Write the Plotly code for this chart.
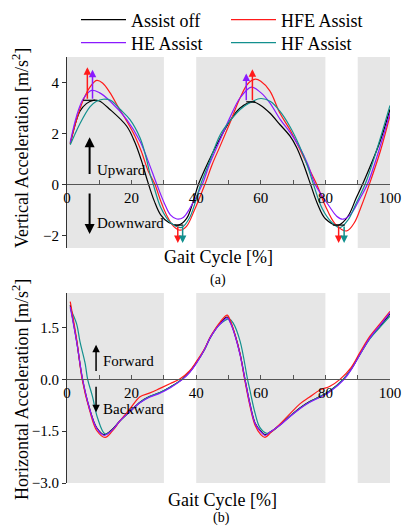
import plotly.graph_objects as go

# ---------------- data ----------------
series_names = ["Assist off", "HFE Assist", "HE Assist", "HF Assist"]
series_colors = ["#000000", "#ff1a1a", "#8a1aff", "#12908e"]

# Vertical acceleration (top)
v_off_x = [1, 4, 6, 8.1, 10, 13.3, 18.5, 21, 23, 25, 27, 29, 31.5, 34.5, 37, 39, 40.7, 44, 47.4, 50.4, 53.6, 57.4, 60, 62.8, 65.9, 69, 71.1, 73.2, 75.4, 77.5, 80, 84, 87, 89.5, 91.5, 96.9, 100]
v_off_y = [1.6, 2.87, 3.17, 3.3, 3.27, 2.94, 2.28, 1.65, 0.95, 0.1, -0.65, -1.2, -1.5, -1.6, -1.35, -0.7, 0.0, 0.95, 1.81, 2.48, 3.0, 3.24, 3.1, 2.8, 2.35, 1.9, 1.45, 0.8, 0.0, -0.75, -1.35, -1.6, -1.25, -0.55, 0.0, 1.68, 2.95]

v_hfe_x = [1, 3, 5, 7, 9.2, 11, 13.3, 16, 18.5, 21, 23, 25.2, 27.2, 29, 31, 33, 35, 37, 39.5, 42.7, 45, 47.4, 50.4, 53.6, 56, 58.3, 60, 62.8, 65.9, 69, 72, 75, 77.3, 80, 83, 86.6, 89, 91, 93.6, 97, 100]
v_hfe_y = [1.6, 2.55, 3.3, 3.8, 4.08, 3.98, 3.6, 3.0, 2.48, 1.9, 1.3, 0.5, 0.0, -0.65, -1.25, -1.65, -1.8, -1.65, -1.0, 0.0, 0.8, 1.5, 2.4, 3.4, 3.95, 4.13, 4.05, 3.67, 2.8, 2.15, 1.4, 0.6, 0.0, -0.85, -1.55, -1.83, -1.5, -0.9, 0.0, 1.3, 2.7]

v_he_x = [1, 3, 5, 7.6, 10, 13.3, 18.5, 22.6, 25, 27.8, 30, 32, 34, 36, 38, 41.9, 44, 47.4, 50.4, 53.6, 57.1, 60, 62.8, 66, 69, 72, 74.5, 76.8, 79, 81.4, 83.5, 85.5, 88, 90.5, 93, 96, 100]
v_he_y = [1.65, 2.7, 3.35, 3.69, 3.6, 3.27, 2.54, 1.69, 0.95, 0.0, -0.7, -1.2, -1.36, -1.3, -0.95, 0.0, 0.75, 1.75, 2.61, 3.4, 3.82, 3.6, 3.2, 2.55, 2.05, 1.45, 0.8, 0.0, -0.45, -0.9, -1.25, -1.37, -1.15, -0.6, 0.0, 1.1, 2.8]

v_hf_x = [1, 4, 7.1, 9, 11.2, 13.5, 16.4, 19.5, 22.6, 24.2, 25.7, 26.7, 29, 32, 35.5, 38, 41.4, 44, 47.4, 50.4, 53.6, 56.6, 60, 63, 65.9, 69, 72, 74.5, 76.3, 79, 82, 84.5, 87, 89.5, 92.3, 96, 100]
v_hf_y = [1.55, 2.38, 3.04, 3.25, 3.34, 3.3, 2.95, 2.54, 1.83, 1.2, 0.4, 0.0, -0.9, -1.5, -1.69, -1.3, 0.0, 0.85, 1.94, 2.48, 2.94, 3.2, 3.37, 3.25, 2.87, 2.27, 1.5, 0.7, 0.0, -0.95, -1.5, -1.7, -1.4, -0.75, 0.0, 1.4, 3.1]

# Horizontal acceleration (bottom)
h_off_x = [1, 3, 4.8, 7, 9.2, 11.5, 14, 16.4, 19.5, 22.6, 25.5, 28.8, 32, 35.6, 38, 40.1, 42.5, 44.3, 46, 47.4, 49.6, 50.6, 52, 53.6, 55.1, 56.6, 58.2, 60, 61.3, 63, 65.9, 69, 72.1, 75, 78.3, 81.4, 85.5, 88, 90.7, 93.8, 97, 100]
h_off_y = [2.15, 1.1, 0.0, -0.85, -1.4, -1.6, -1.45, -1.2, -0.93, -0.66, -0.5, -0.38, -0.22, 0.0, 0.22, 0.49, 0.85, 1.2, 1.45, 1.62, 1.8, 1.65, 1.29, 0.73, 0.0, -0.69, -1.26, -1.5, -1.6, -1.52, -1.32, -1.07, -0.83, -0.65, -0.5, -0.33, 0.0, 0.3, 0.73, 1.2, 1.55, 1.9]

h_hfe_x = [1, 3, 4.7, 7, 9.2, 11.8, 14, 16.4, 19.5, 22.6, 25.5, 28.8, 32, 34.8, 38, 40.1, 42.5, 44.3, 46, 47.4, 49.6, 50.6, 52, 53.6, 55, 56.6, 58.2, 60, 61.3, 63, 65.9, 69, 72.1, 75, 78.3, 81.4, 84.5, 88, 90.7, 93.8, 97, 100]
h_hfe_y = [2.25, 1.15, 0.0, -0.9, -1.48, -1.68, -1.5, -1.2, -0.85, -0.5, -0.4, -0.26, -0.12, 0.0, 0.25, 0.52, 0.87, 1.22, 1.48, 1.66, 1.86, 1.7, 1.3, 0.72, 0.0, -0.75, -1.32, -1.6, -1.68, -1.55, -1.3, -1.0, -0.71, -0.52, -0.31, -0.2, 0.0, 0.35, 0.78, 1.25, 1.62, 1.97]

h_he_x = [1, 3, 4.85, 7, 9.2, 11.5, 14, 16.4, 19.5, 22.6, 25.5, 28.8, 32, 35.8, 38, 40.1, 42.5, 44.3, 46, 47.4, 49.6, 50.6, 52, 53.6, 55.1, 56.6, 58.2, 60, 61.3, 63, 65.9, 69, 72.1, 75, 78.3, 81.4, 85.8, 88, 90.7, 93.8, 97, 100]
h_he_y = [2.1, 1.08, 0.0, -0.85, -1.42, -1.62, -1.47, -1.2, -0.93, -0.68, -0.52, -0.4, -0.24, 0.0, 0.2, 0.47, 0.85, 1.2, 1.45, 1.6, 1.78, 1.63, 1.27, 0.7, 0.0, -0.7, -1.27, -1.52, -1.62, -1.52, -1.33, -1.08, -0.85, -0.67, -0.52, -0.36, 0.0, 0.28, 0.72, 1.2, 1.58, 1.93]

h_hf_x = [1, 3, 4, 5.6, 6.4, 7.9, 9.4, 11.8, 14, 16.4, 19.5, 22.6, 25.5, 28.8, 32, 35.5, 38, 40.1, 42.5, 44.3, 46, 47.4, 50.2, 51.5, 53.6, 55.9, 56.6, 58.2, 59.7, 61.8, 63.5, 65.9, 69, 72.1, 75, 78.3, 81.4, 85.5, 88, 90.7, 93.8, 97, 100]
h_hf_y = [2.05, 1.6, 1.1, 0.47, 0.0, -0.5, -1.1, -1.58, -1.47, -1.2, -0.93, -0.67, -0.5, -0.38, -0.22, 0.0, 0.22, 0.49, 0.85, 1.2, 1.45, 1.6, 1.75, 1.62, 1.1, 0.0, -0.3, -0.97, -1.39, -1.56, -1.5, -1.32, -1.07, -0.84, -0.66, -0.5, -0.34, 0.0, 0.3, 0.72, 1.18, 1.52, 1.83]

# shaded gait phases (x ranges)
shade_ranges = [(0, 30), (40, 80), (90, 100)]

# peak/valley markers on the vertical plot: (x, base, tip, color index)
change_arrows = [(6.3, 3.3, 4.6, 1), (7.9, 3.3, 4.5, 2), (55.5, 3.24, 4.35, 2), (57.4, 3.24, 4.52, 1),
                 (34.3, -1.6, -2.3, 1), (35.8, -1.6, -2.3, 3), (84.1, -1.6, -2.3, 1), (85.8, -1.6, -2.3, 3)]
base_segments = [(5.0, 8.7, 3.3), (55.5, 58.3, 3.24), (33.4, 36.0, -1.6), (82.3, 86.0, -1.6)]

x_ticks = [0, 20, 40, 60, 80, 100]
v_ticks = [-2, 0, 2, 4]
h_ticks = [-3.0, -1.5, 0.0, 1.5]
v_range = [-2.5, 5]
h_range = [-3, 2.5]

# ---------------- layout helpers ----------------
W, H = 403, 527
ML, MR, MT, MB = 67, 13, 57, 44
PW, PH = W - ML - MR, H - MT - MB
def paper_x(px):
    return (px - ML) / PW
def paper_y(py):
    return (H - MB - py) / PH

top_dom = [paper_y(248), 1.0]
bot_dom = [0.0, paper_y(293)]
top_zero = top_dom[0] + (0 - v_range[0]) / (v_range[1] - v_range[0]) * (top_dom[1] - top_dom[0])
bot_zero = bot_dom[0] + (0 - h_range[0]) / (h_range[1] - h_range[0]) * (bot_dom[1] - bot_dom[0])

FONT = "Liberation Serif"
fig = go.Figure()

top_sets = [(v_off_x, v_off_y), (v_hfe_x, v_hfe_y), (v_he_x, v_he_y), (v_hf_x, v_hf_y)]
bot_sets = [(h_off_x, h_off_y), (h_hfe_x, h_hfe_y), (h_he_x, h_he_y), (h_hf_x, h_hf_y)]
legend_ids = ["legend", "legend2", "legend3", "legend4"]
# legend slots (px of entry start, row centre px)
legend_slots = [(76, 20), (226, 20), (76, 43), (226, 43)]

for i in range(4):
    xs, ys = top_sets[i]
    fig.add_trace(go.Scatter(x=xs, y=ys, mode="lines", name=series_names[i],
                             line=dict(color=series_colors[i], width=1.2, shape="spline", smoothing=1.0),
                             xaxis="x", yaxis="y", showlegend=True, legend=legend_ids[i]))
for i in [0, 3, 1, 2]:
    xs, ys = bot_sets[i]
    fig.add_trace(go.Scatter(x=xs, y=ys, mode="lines", name=series_names[i],
                             line=dict(color=series_colors[i], width=1.2, shape="spline", smoothing=1.0),
                             xaxis="x2", yaxis="y2", showlegend=False))

shapes = []
for (a, b) in shade_ranges:
    for xr, yr in [("x", "y domain"), ("x2", "y2 domain")]:
        shapes.append(dict(type="rect", xref=xr, yref=yr, x0=a, x1=b, y0=0, y1=1,
                           fillcolor="#e6e6e6", line=dict(width=0), layer="below"))
for (a, b, yv) in base_segments:
    shapes.append(dict(type="line", xref="x", yref="y", x0=a, x1=b, y0=yv, y1=yv,
                       line=dict(color="#000000", width=1.2)))

ann = []
for (xv, base, tip, ci) in change_arrows:
    ann.append(dict(x=xv, y=tip, ax=xv, ay=base, xref="x", yref="y", axref="x", ayref="y",
                    text="", showarrow=True, arrowhead=2, arrowsize=1.0, arrowwidth=1.5,
                    arrowcolor=series_colors[ci]))
# direction arrows + labels
ann += [
    dict(x=7.0, y=1.85, ax=7.0, ay=0.35, xref="x", yref="y", axref="x", ayref="y", text="",
         showarrow=True, arrowhead=2, arrowsize=1.0, arrowwidth=2, arrowcolor="#000"),
    dict(x=7.0, y=-1.95, ax=7.0, ay=-0.3, xref="x", yref="y", axref="x", ayref="y", text="",
         showarrow=True, arrowhead=2, arrowsize=1.0, arrowwidth=2, arrowcolor="#000"),
    dict(x=8.6, y=0.56, xref="x", yref="y", text="Upward", showarrow=False, xanchor="left",
         font=dict(family=FONT, size=15, color="#000")),
    dict(x=8.6, y=-1.5, xref="x", yref="y", text="Downward", showarrow=False, xanchor="left",
         font=dict(family=FONT, size=15, color="#000")),
    dict(x=9.0, y=1.0, ax=9.0, ay=0.2, xref="x2", yref="y2", axref="x2", ayref="y2", text="",
         showarrow=True, arrowhead=2, arrowsize=1.0, arrowwidth=1.5, arrowcolor="#000"),
    dict(x=9.0, y=-0.95, ax=9.0, ay=-0.17, xref="x2", yref="y2", axref="x2", ayref="y2", text="",
         showarrow=True, arrowhead=2, arrowsize=1.0, arrowwidth=1.5, arrowcolor="#000"),
    dict(x=10.6, y=0.54, xref="x2", yref="y2", text="Forward", showarrow=False, xanchor="left",
         font=dict(family=FONT, size=15, color="#000")),
    dict(x=10.6, y=-0.86, xref="x2", yref="y2", text="Backward", showarrow=False, xanchor="left",
         font=dict(family=FONT, size=15, color="#000")),
]
# titles
ann += [
    dict(x=paper_x(218), y=paper_y(257), xref="paper", yref="paper", text="Gait Cycle [%]",
         xanchor="center", yanchor="middle",
         showarrow=False, font=dict(family=FONT, size=18, color="#000")),
    dict(x=paper_x(218), y=paper_y(280), xref="paper", yref="paper", text="(a)",
         xanchor="center", yanchor="middle",
         showarrow=False, font=dict(family=FONT, size=14, color="#000")),
    dict(x=paper_x(222), y=paper_y(500), xref="paper", yref="paper", text="Gait Cycle [%]",
         xanchor="center", yanchor="middle",
         showarrow=False, font=dict(family=FONT, size=18, color="#000")),
    dict(x=paper_x(221), y=paper_y(518), xref="paper", yref="paper", text="(b)",
         xanchor="center", yanchor="middle",
         showarrow=False, font=dict(family=FONT, size=14, color="#000")),
    dict(x=paper_x(20), y=paper_y(148), xref="paper", yref="paper", textangle=-90,
         xanchor="center", yanchor="middle",
         text="Vertical Acceleration [m/s<sup>2</sup>]", showarrow=False,
         font=dict(family=FONT, size=18, color="#000")),
    dict(x=paper_x(20), y=paper_y(390), xref="paper", yref="paper", textangle=-90,
         xanchor="center", yanchor="middle",
         text="Horizontal Acceleration [m/s<sup>2</sup>]", showarrow=False,
         font=dict(family=FONT, size=18, color="#000")),
]

xaxis_common = dict(range=[0, 100], tickvals=x_ticks, ticks="inside", ticklen=4, tickcolor="#555",
                    showline=True, linecolor="#555", linewidth=1.2, showgrid=False, zeroline=False,
                    tickfont=dict(family=FONT, size=15, color="#000"), anchor="free",
                    minor=dict(dtick=10, ticks="inside", ticklen=4, tickcolor="#555"))
yaxis_common = dict(ticks="outside", ticklen=4, tickcolor="#333", showline=True, linecolor="#333",
                    linewidth=1.2, showgrid=False, zeroline=False,
                    tickfont=dict(family=FONT, size=15, color="#000"))

layout_kw = dict(
    width=W, height=H, margin=dict(l=ML, r=MR, t=MT, b=MB, autoexpand=False),
    paper_bgcolor="white", plot_bgcolor="white",
    xaxis=dict(xaxis_common, domain=[0, 1], position=top_zero),
    yaxis=dict(yaxis_common, domain=top_dom, range=v_range, tickvals=v_ticks, anchor="x"),
    xaxis2=dict(xaxis_common, domain=[0, 1], position=bot_zero),
    yaxis2=dict(yaxis_common, domain=bot_dom, range=h_range, tickvals=h_ticks,
                tickformat=".1f", anchor="x2"),
    shapes=shapes, annotations=ann, showlegend=True,
)
for lid, (lx, ly) in zip(legend_ids, legend_slots):
    layout_kw[lid] = dict(orientation="h", xref="container", yref="container",
                          x=lx / W, y=1 - ly / H, xanchor="left",
                          yanchor="middle", itemwidth=45,
                          font=dict(family=FONT, size=18, color="#000"),
                          bgcolor="rgba(0,0,0,0)")
fig.update_layout(**layout_kw)

fig.write_html("out.html")
